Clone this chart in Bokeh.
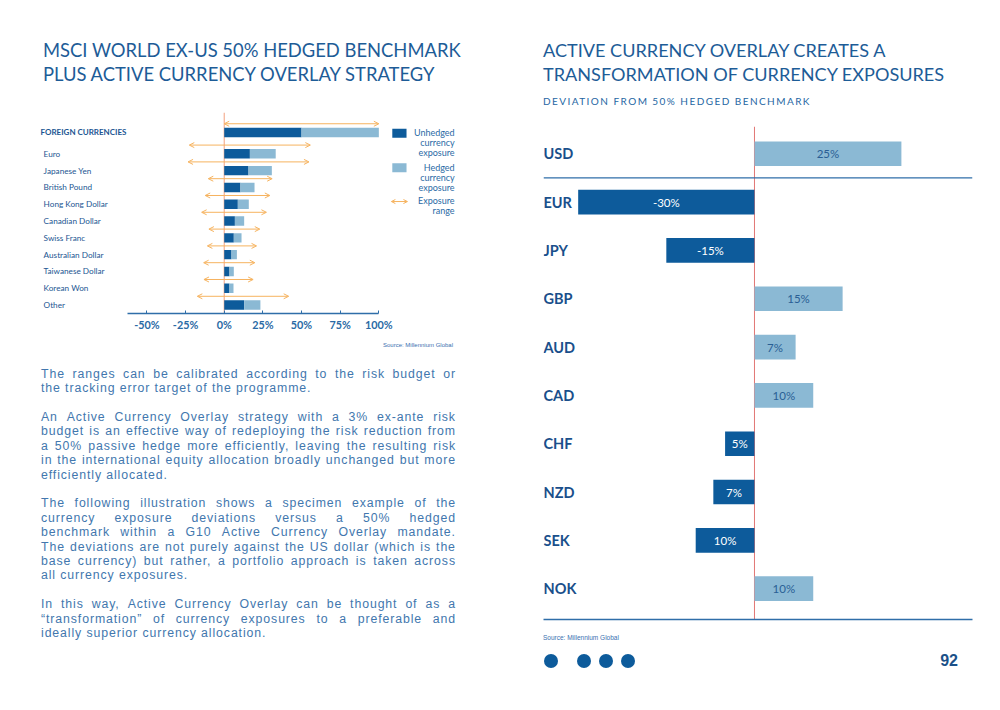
from bokeh.plotting import figure
from bokeh.models import ColumnDataSource, Range1d, Span, Arrow, OpenHead, FixedTicker, Div
from bokeh.layouts import row, column
from bokeh.embed import file_html
from bokeh.resources import INLINE
from bokeh.core.properties import value

# ---------------- data ----------------
left_title = ["MSCI WORLD EX-US 50% HEDGED BENCHMARK", "PLUS ACTIVE CURRENCY OVERLAY STRATEGY"]
left_cats = ["FOREIGN CURRENCIES", "Euro", "Japanese Yen", "British Pound", "Hong Kong Dollar",
             "Canadian Dollar", "Swiss Franc", "Australian Dollar", "Taiwanese Dollar",
             "Korean Won", "Other"]
unhedged = [50, 16.6, 15.7, 10.5, 8.8, 6.9, 6.2, 4.7, 3.4, 3.4, 12.9]
hedged = [50, 16.7, 15.1, 9.1, 7.1, 6.0, 5.0, 3.5, 2.8, 2.6, 10.5]
range_low = [0, -22.6, -23.4, -10.3, -12.3, -14.6, -9.9, -10.9, -13.3, -13.1, -17.4]
range_high = [100, 55.7, 54.8, 31.0, 29.5, 27.3, 23.0, 20.9, 19.8, 18.7, 41.7]
left_ticks = [-50, -25, 0, 25, 50, 75, 100]
left_tick_labels = ["-50%", "-25%", "0%", "25%", "50%", "75%", "100%"]
legend_labels = ["Unhedged currency exposure", "Hedged currency exposure", "Exposure range"]

right_title = ["ACTIVE CURRENCY OVERLAY CREATES A", "TRANSFORMATION OF CURRENCY EXPOSURES"]
right_subtitle = "DEVIATION FROM 50% HEDGED BENCHMARK"
right_cats = ["USD", "EUR", "JPY", "GBP", "AUD", "CAD", "CHF", "NZD", "SEK", "NOK"]
deviation = [25, -30, -15, 15, 7, 10, -5, -7, -10, 10]
deviation_labels = ["25%", "-30%", "-15%", "15%", "7%", "10%", "5%", "7%", "10%", "10%"]

source_text = "Source: Millennium Global"
page_number = "92"

paragraphs = [
    ["The ranges can be calibrated according to the risk budget or",
     "the tracking error target of the programme."],
    ["An Active Currency Overlay strategy with a 3% ex-ante risk",
     "budget is an effective way of redeploying the risk reduction from",
     "a 50%  passive hedge more efficiently, leaving the resulting risk",
     "in the international equity allocation broadly unchanged but more",
     "efficiently allocated."],
    ["The following illustration shows a specimen example of the",
     "currency exposure deviations versus a 50% hedged",
     "benchmark within a G10 Active Currency Overlay mandate.",
     "The deviations are not purely against the US dollar (which is the",
     "base currency) but rather, a portfolio approach is taken across",
     "all currency exposures."],
    ["In this way, Active Currency Overlay can be thought of as a",
     "\u201ctransformation\u201d of currency exposures to a preferable and",
     "ideally superior currency allocation."],
]

# ---------------- style ----------------
DARK = "#0d5b9b"
LIGHT = "#8bb9d4"
ORANGE = "#f6b35f"
ZERO_LEFT = "#f3a07e"
RED = "#e27775"
TITLE_C = "#1d5c97"
LABEL_C = "#1c5692"
AXIS_C = "#2f6ea9"
BODY_C = "#4277ae"
FONT = "Lato"

# ---------------- left chart ----------------
HEADER_GAP = 0.27
ypos = [i + (HEADER_GAP if i > 0 else 0) for i in range(len(left_cats))]
totals = [u + h for u, h in zip(unhedged, hedged)]
src1 = ColumnDataSource(dict(cat=left_cats, y=ypos, unh=unhedged, tot=totals,
                             lo=range_low, hi=range_high, ya=[y - 0.52 for y in ypos]))

p1 = figure(width=510, height=227, x_range=Range1d(-121.4, 154.1), y_range=Range1d(10.774, -1.190),
            output_backend="svg", toolbar_location=None, y_axis_location=None, title=None,
            min_border_left=28, min_border_right=56, min_border_top=4, min_border_bottom=22)
p1.grid.visible = False
p1.outline_line_color = None
p1.background_fill_color = "white"
p1.border_fill_color = "white"

p1.add_layout(Span(location=0, dimension="height", line_color=ZERO_LEFT, line_width=1, level="underlay"))
p1.hbar(y="y", left=0, right="unh", height=0.56, fill_color=DARK, line_color=None, source=src1)
p1.hbar(y="y", left="unh", right="tot", height=0.56, fill_color=LIGHT, line_color=None, source=src1)
p1.add_layout(Arrow(start=OpenHead(size=5, line_color=ORANGE, line_width=1),
                    end=OpenHead(size=5, line_color=ORANGE, line_width=1),
                    x_start="lo", x_end="hi", y_start="ya", y_end="ya",
                    line_color=ORANGE, line_width=1, source=src1))

HEAD_X = -118.8
LABEL_X = -116.8
p1.text(x=[HEAD_X], y=ypos[:1], text=left_cats[:1], text_font=value(FONT), text_font_size="8px",
        text_font_style="bold", text_color=LABEL_C, text_align="left", text_baseline="middle")
p1.text(x=[LABEL_X] * (len(left_cats) - 1), y=ypos[1:], text=left_cats[1:], text_font=value(FONT),
        text_font_size="8.2px", text_color=LABEL_C, text_align="left", text_baseline="middle")

# legend (manual, to match right-aligned stacked labels)
LEG_Y = [0.04, 2.1, 4.11]
LEG_LINE = 0.6
LEG_SW_X = 113.3
LEG_TXT_X = 149.0
p1.rect(x=[LEG_SW_X, LEG_SW_X], y=LEG_Y[:2], width=9.2, height=0.54,
        fill_color=[DARK, LIGHT], line_color=None)
p1.add_layout(Arrow(start=OpenHead(size=4, line_color=ORANGE, line_width=1),
                    end=OpenHead(size=4, line_color=ORANGE, line_width=1),
                    x_start=LEG_SW_X - 5.2, x_end=LEG_SW_X + 5.2, y_start=LEG_Y[2], y_end=LEG_Y[2],
                    line_color=ORANGE, line_width=1))
lx, ly, lt = [], [], []
for base, lab in zip(LEG_Y, legend_labels):
    for k, w in enumerate(lab.split()):
        lx.append(LEG_TXT_X)
        ly.append(base - 0.04 + k * LEG_LINE)
        lt.append(w)
p1.text(x=lx, y=ly, text=lt, text_font=value(FONT), text_font_size="9px", text_color="#2a6aa5",
        text_align="right", text_baseline="middle")

ax = p1.xaxis[0]
ax.ticker = FixedTicker(ticks=left_ticks)
ax.major_label_overrides = {t: l for t, l in zip(left_ticks, left_tick_labels)}
ax.bounds = (-62.5, 100)
ax.axis_line_color = AXIS_C
ax.axis_line_width = 1.3
ax.major_tick_in = 3
ax.major_tick_out = 0
ax.major_tick_line_color = AXIS_C
ax.minor_tick_line_color = None
ax.major_label_text_font = FONT
ax.major_label_text_font_size = "10.8px"
ax.major_label_text_font_style = "bold"
ax.major_label_text_color = "#2a6aa5"
ax.major_label_standoff = 4

# ---------------- right chart ----------------
ridx = list(range(len(right_cats)))
src2 = ColumnDataSource(dict(
    cat=right_cats, y=ridx, val=deviation, mid=[v / 2 for v in deviation], lab=deviation_labels,
    color=[LIGHT if v > 0 else DARK for v in deviation],
    tcolor=["#2a5f95" if v > 0 else "white" for v in deviation]))

RX = (-35.9, 37.1)
p2 = figure(width=474, height=511, x_range=Range1d(*RX), y_range=Range1d(9.638, -0.565),
            output_backend="svg", toolbar_location=None, y_axis_location=None, title=None,
            min_border_left=25, min_border_right=20, min_border_top=8, min_border_bottom=10)
p2.grid.visible = False
p2.outline_line_color = None
p2.background_fill_color = "white"
p2.border_fill_color = "white"

p2.add_layout(Span(location=0, dimension="height", line_color=RED, line_width=1, level="underlay"))
p2.add_layout(Span(location=0.5, dimension="width", line_color=AXIS_C, line_width=1.3))
p2.hbar(y="y", left=0, right="val", height=0.51, fill_color="color", line_color=None, source=src2)
p2.text(x="mid", y="y", text="lab", text_color="tcolor", text_font=value(FONT), text_font_size="11.5px",
        text_align="center", text_baseline="middle", source=src2)
p2.text(x=[RX[0]] * len(right_cats), y=ridx, text=right_cats, text_font=value(FONT),
        text_font_size="14.5px", text_font_style="bold", text_color="#1a4f8b",
        text_align="left", text_baseline="middle")

bx = p2.xaxis[0]
bx.ticker = FixedTicker(ticks=[])
bx.axis_line_color = AXIS_C
bx.axis_line_width = 1.3
bx.major_tick_out = 0
bx.major_tick_in = 0
bx.minor_tick_line_color = None
bx.major_label_standoff = 0

# ---------------- text blocks ----------------
def title_html(lines, left, top, size):
    return (f'<div style="position:absolute;left:{left}px;top:{top}px;font-family:Lato,sans-serif;'
            f'font-size:{size}px;line-height:24px;color:{TITLE_C};white-space:nowrap;">'
            + "<br>".join(lines) + "</div>")

left_title_div = Div(width=510, height=100, margin=0, text=(
    '<div style="position:relative;width:510px;height:100px;">' + title_html(left_title, 35, 30, 18.4) + "</div>"))

def para_html(paras):
    out = []
    for para in paras:
        lines = []
        for k, ln in enumerate(para):
            if k < len(para) - 1:
                spans = "".join(f"<span>{w}</span>" for w in ln.split())
                lines.append('<div style="display:flex;justify-content:space-between;gap:3px;white-space:nowrap;">'
                             + spans + "</div>")
            else:
                lines.append(f'<div style="white-space:nowrap;">{ln}</div>')
        out.append('<div style="margin-bottom:14.4px;">' + "".join(lines) + "</div>")
    return "".join(out)

left_body_div = Div(width=510, height=360, margin=0, text=(
    '<div style="position:relative;width:510px;height:360px;">'
    f'<div style="position:absolute;right:65px;top:6px;font-family:\'Liberation Sans\',sans-serif;'
    f'font-size:6px;line-height:8px;color:#3a70b0;white-space:nowrap;">{source_text}</div>'
    '<div style="position:absolute;left:33px;top:31.8px;width:415px;font-family:\'Liberation Sans\',sans-serif;'
    f'font-size:12.3px;line-height:14.4px;letter-spacing:0.9px;color:{BODY_C};">'
    + para_html(paragraphs) + "</div></div>"))

right_title_div = Div(width=474, height=110, margin=0, text=(
    '<div style="position:relative;width:474px;height:110px;">' + title_html(right_title, 25, 30, 18.1)
    + f'<div style="position:absolute;left:25px;top:87px;font-family:Lato,sans-serif;font-size:10px;'
      f'line-height:12px;letter-spacing:1.45px;color:#2566a3;white-space:nowrap;">{right_subtitle}</div>'
    + "</div>"))

dots = "".join(
    f'<div style="position:absolute;left:{x}px;top:25px;width:14px;height:14px;border-radius:50%;background:{DARK};"></div>'
    for x in (26, 59, 81, 103))
right_foot_div = Div(width=474, height=66, margin=0, text=(
    '<div style="position:relative;width:474px;height:66px;">'
    f'<div style="position:absolute;left:25px;top:5px;font-family:\'Liberation Sans\',sans-serif;'
    f'font-size:6.5px;line-height:8px;color:#3a70b0;white-space:nowrap;">{source_text}</div>'
    + dots +
    f'<div style="position:absolute;right:34px;top:23px;font-family:\'Liberation Sans\',sans-serif;'
    f'font-weight:bold;font-size:16px;line-height:18px;color:#1b5189;">{page_number}</div>'
    "</div>"))

layout = row(column(left_title_div, p1, left_body_div), column(right_title_div, p2, right_foot_div),
             margin=(8, 0, 0, 8))

open("out.html", "w", encoding="utf-8").write(file_html(layout, INLINE))
